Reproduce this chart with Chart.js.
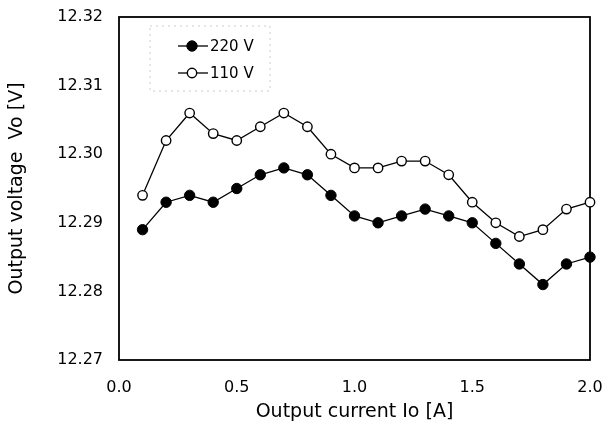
<!DOCTYPE html>
<html>
<head>
<meta charset="utf-8">
<title>Output voltage vs output current</title>
<script src="https://cdn.jsdelivr.net/npm/chart.js@4/dist/chart.umd.min.js"></script>
<style>
  html, body { margin: 0; padding: 0; background: #fff; }
  #wrap { width: 603px; height: 425px; }
</style>
</head>
<body>
<div id="wrap"><canvas id="chart" width="603" height="425"></canvas></div>
<script>
// Output current Io [A]
const current = [0.1, 0.2, 0.3, 0.4, 0.5, 0.6, 0.7, 0.8, 0.9, 1.0,
                 1.1, 1.2, 1.3, 1.4, 1.5, 1.6, 1.7, 1.8, 1.9, 2.0];

// Output voltage Vo [V] for each input line voltage
const vo220 = [12.289, 12.293, 12.294, 12.293, 12.295, 12.297, 12.298, 12.297, 12.294, 12.291,
               12.290, 12.291, 12.292, 12.291, 12.290, 12.287, 12.284, 12.281, 12.284, 12.285];
const vo110 = [12.294, 12.302, 12.306, 12.303, 12.302, 12.304, 12.306, 12.304, 12.300, 12.298,
               12.298, 12.299, 12.299, 12.297, 12.293, 12.290, 12.288, 12.289, 12.292, 12.293];

const seriesLabels = ['220 V', '110 V'];
const xTicks = [0.0, 0.5, 1.0, 1.5, 2.0];
const yTicks = [12.27, 12.28, 12.29, 12.30, 12.31, 12.32];

const FONT = 'DejaVu Sans, Arial, sans-serif';
const INK = '#000';

const toPoints = (ys) => current.map((x, i) => ({ x, y: ys[i] }));

// box around the plotting area
const framePlugin = {
  id: 'frame',
  beforeDatasetsDraw(chart) {
    const { ctx, chartArea: a } = chart;
    ctx.save();
    ctx.strokeStyle = INK;
    ctx.lineWidth = 1.8;
    ctx.strokeRect(a.left, a.top, a.right - a.left, a.bottom - a.top);
    ctx.restore();
  }
};

// legend sitting inside the plot, top-left, with a faint dotted box
const insideLegend = {
  id: 'insideLegend',
  afterDraw(chart) {
    const { ctx } = chart;
    const x0 = 150, y0 = 26, w = 120, h = 65;
    ctx.save();
    ctx.strokeStyle = '#ccc';
    ctx.lineWidth = 1;
    ctx.setLineDash([2, 4]);
    ctx.strokeRect(x0, y0, w, h);
    ctx.setLineDash([]);

    chart.data.datasets.forEach((ds, i) => {
      const y = 46 + i * 27;
      ctx.strokeStyle = INK;
      ctx.lineWidth = 1.3;
      ctx.beginPath();
      ctx.moveTo(178, y);
      ctx.lineTo(208, y);
      ctx.stroke();
      ctx.beginPath();
      ctx.arc(192, y, ds.pointRadius, 0, Math.PI * 2);
      ctx.fillStyle = ds.pointBackgroundColor;
      ctx.fill();
      ctx.lineWidth = ds.pointBorderWidth;
      ctx.stroke();
      ctx.fillStyle = INK;
      ctx.font = '15px ' + FONT;
      ctx.textBaseline = 'middle';
      ctx.fillText(ds.label, 210, y + 1);
    });
    ctx.restore();
  }
};

new Chart(document.getElementById('chart'), {
  type: 'line',
  data: {
    datasets: [
      {
        label: seriesLabels[0],
        data: toPoints(vo220),
        borderColor: INK,
        borderWidth: 1.3,
        pointRadius: 5.2,
        pointBackgroundColor: INK,
        pointBorderColor: INK,
        pointBorderWidth: 1,
        tension: 0,
        clip: false
      },
      {
        label: seriesLabels[1],
        data: toPoints(vo110),
        borderColor: INK,
        borderWidth: 1.3,
        pointRadius: 4.7,
        pointBackgroundColor: '#fff',
        pointBorderColor: INK,
        pointBorderWidth: 1.4,
        tension: 0,
        clip: false
      }
    ]
  },
  options: {
    responsive: false,
    animation: false,
    layout: { padding: { top: 17, right: 13, left: 0, bottom: 0 } },
    plugins: {
      legend: { display: false },
      tooltip: { enabled: false }
    },
    scales: {
      x: {
        type: 'linear',
        min: 0,
        max: 2,
        afterFit(scale) {
          scale.height = 65;
          scale.paddingLeft = 0;
          scale.paddingRight = 0;
        },
        afterBuildTicks(scale) { scale.ticks = xTicks.map(v => ({ value: v })); },
        grid: { display: false, drawTicks: false },
        border: { display: false },
        ticks: {
          padding: 18,
          color: INK,
          font: { family: FONT, size: 16 },
          maxRotation: 0,
          callback: (v) => v.toFixed(1)
        },
        title: {
          display: true,
          text: 'Output current Io [A]',
          color: INK,
          font: { family: FONT, size: 19 },
          padding: { top: 0, bottom: 2 }
        }
      },
      y: {
        type: 'linear',
        min: 12.27,
        max: 12.32,
        afterFit(scale) {
          scale.width = 119;
          scale.paddingTop = 0;
          scale.paddingBottom = 0;
        },
        afterBuildTicks(scale) { scale.ticks = yTicks.map(v => ({ value: v })); },
        grid: { display: false, drawTicks: false },
        border: { display: false },
        ticks: {
          padding: 16,
          color: INK,
          font: { family: FONT, size: 16 },
          callback: (v) => v.toFixed(2)
        },
        title: {
          display: true,
          text: 'Output voltage  Vo [V]',
          color: INK,
          font: { family: FONT, size: 19 },
          padding: { top: 6, bottom: 0 }
        }
      }
    }
  },
  plugins: [framePlugin, insideLegend]
});
</script>
</body>
</html>
